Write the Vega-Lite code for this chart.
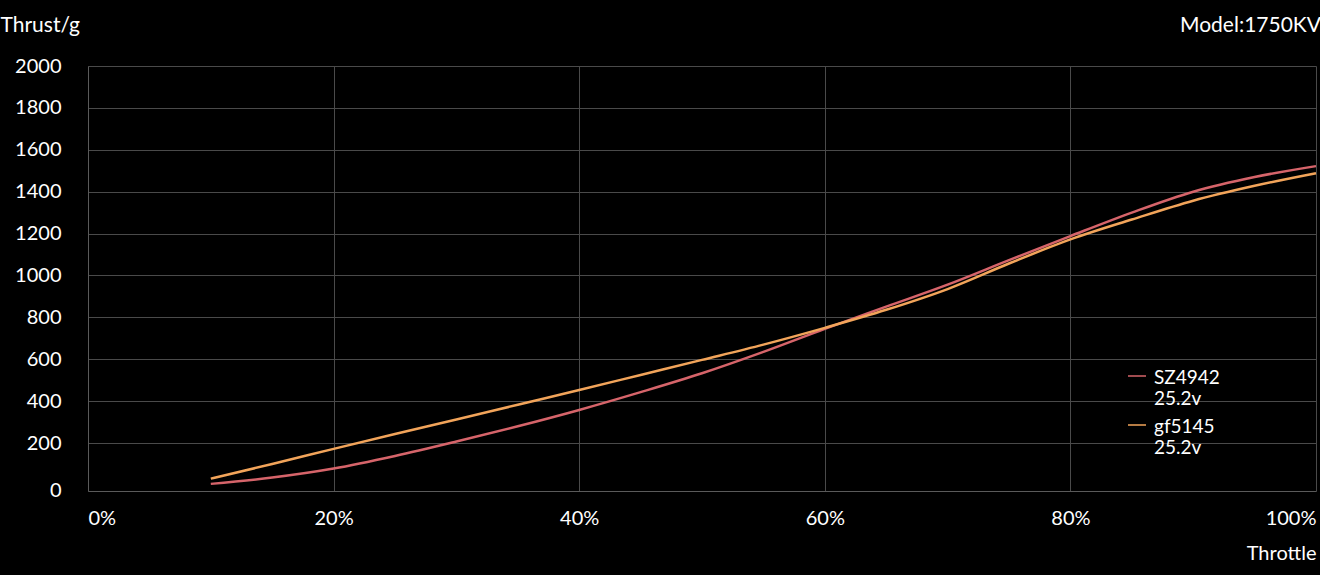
{
  "$schema": "https://vega.github.io/schema/vega-lite/v6.json",
  "width": 1228,
  "height": 425,
  "autosize": {"type": "none"},
  "padding": {"left": 88, "top": 66, "right": 4, "bottom": 84},
  "background": "#000000",
  "title": {"text": "Model:1750KV", "anchor": "end", "orient": "top", "offset": -22, "color": "#ffffff", "font": "Lato", "fontSize": 21, "fontWeight": "normal", "dx": 0},
  "config": {
    "view": {"stroke": null},
    "font": "Lato"
  },
  "data": {
    "values": [
      {"throttle": 0.10, "thrust": 5, "series": "SZ4942"},
      {"throttle": 0.15, "thrust": 35, "series": "SZ4942"},
      {"throttle": 0.20, "thrust": 78, "series": "SZ4942"},
      {"throttle": 0.25, "thrust": 138, "series": "SZ4942"},
      {"throttle": 0.30, "thrust": 207, "series": "SZ4942"},
      {"throttle": 0.35, "thrust": 280, "series": "SZ4942"},
      {"throttle": 0.40, "thrust": 358, "series": "SZ4942"},
      {"throttle": 0.45, "thrust": 443, "series": "SZ4942"},
      {"throttle": 0.50, "thrust": 533, "series": "SZ4942"},
      {"throttle": 0.55, "thrust": 635, "series": "SZ4942"},
      {"throttle": 0.60, "thrust": 745, "series": "SZ4942"},
      {"throttle": 0.65, "thrust": 851, "series": "SZ4942"},
      {"throttle": 0.70, "thrust": 956, "series": "SZ4942"},
      {"throttle": 0.75, "thrust": 1073, "series": "SZ4942"},
      {"throttle": 0.80, "thrust": 1188, "series": "SZ4942"},
      {"throttle": 0.85, "thrust": 1300, "series": "SZ4942"},
      {"throttle": 0.90, "thrust": 1400, "series": "SZ4942"},
      {"throttle": 0.95, "thrust": 1470, "series": "SZ4942"},
      {"throttle": 1.00, "thrust": 1522, "series": "SZ4942"},
      {"throttle": 0.10, "thrust": 30, "series": "gf5145"},
      {"throttle": 0.15, "thrust": 100, "series": "gf5145"},
      {"throttle": 0.20, "thrust": 172, "series": "gf5145"},
      {"throttle": 0.25, "thrust": 243, "series": "gf5145"},
      {"throttle": 0.30, "thrust": 312, "series": "gf5145"},
      {"throttle": 0.35, "thrust": 383, "series": "gf5145"},
      {"throttle": 0.40, "thrust": 453, "series": "gf5145"},
      {"throttle": 0.45, "thrust": 525, "series": "gf5145"},
      {"throttle": 0.50, "thrust": 597, "series": "gf5145"},
      {"throttle": 0.55, "thrust": 670, "series": "gf5145"},
      {"throttle": 0.60, "thrust": 750, "series": "gf5145"},
      {"throttle": 0.65, "thrust": 836, "series": "gf5145"},
      {"throttle": 0.70, "thrust": 935, "series": "gf5145"},
      {"throttle": 0.75, "thrust": 1057, "series": "gf5145"},
      {"throttle": 0.80, "thrust": 1172, "series": "gf5145"},
      {"throttle": 0.85, "thrust": 1267, "series": "gf5145"},
      {"throttle": 0.90, "thrust": 1357, "series": "gf5145"},
      {"throttle": 0.95, "thrust": 1428, "series": "gf5145"},
      {"throttle": 1.00, "thrust": 1488, "series": "gf5145"}
    ]
  },
  "mark": {"type": "line", "interpolate": "monotone", "strokeWidth": 2.5},
  "encoding": {
    "x": {
      "field": "throttle", "type": "quantitative",
      "scale": {"domain": [0, 1], "nice": false},
      "axis": {
        "title": "Throttle", "titleColor": "#ffffff", "titleFont": "Lato", "titleFontSize": 20, "titleFontWeight": "normal",
        "titleAnchor": "end", "titleAlign": "right", "titleX": 1228, "titleY": 62, "titleBaseline": "middle",
        "format": ".0%", "values": [0, 0.2, 0.4, 0.6, 0.8, 1.0],
        "labelFlush": true, "labelColor": "#ffffff", "labelFontSize": 20, "labelPadding": 17,
        "ticks": false, "domainColor": "#5a5a5a", "domainWidth": 1,
        "grid": true, "gridColor": "#4a4a4a", "gridWidth": 1
      }
    },
    "y": {
      "field": "thrust", "type": "quantitative",
      "scale": {"domain": [-29, 2000], "nice": false, "zero": false},
      "axis": {
        "title": "Thrust/g", "titleColor": "#ffffff", "titleFont": "Lato", "titleFontSize": 21, "titleFontWeight": "normal",
        "titleAngle": 0, "titleAlign": "left", "titleBaseline": "middle", "titleX": -88, "titleY": -41,
        "format": "d",
        "values": [0, 200, 400, 600, 800, 1000, 1200, 1400, 1600, 1800, 2000],
        "labelColor": "#ffffff", "labelFontSize": 20, "labelPadding": 27,
        "labelOffset": {"condition": {"test": "datum.value === 0", "value": 6}, "value": 0},
        "ticks": false, "domainColor": "#5a5a5a", "domainWidth": 1,
        "grid": true, "gridColor": {"condition": {"test": "datum.value === 0", "value": "transparent"}, "value": "#4a4a4a"}, "gridWidth": 1
      }
    },
    "color": {
      "field": "series", "type": "nominal",
      "scale": {"domain": ["SZ4942", "gf5145"], "range": ["#d6646a", "#f2a45a"]},
      "legend": {
        "title": null, "orient": "none", "legendX": 1039, "legendY": 300,
        "symbolType": "stroke", "symbolSize": 324, "symbolStrokeWidth": 2, "symbolOpacity": 0.75,
        "labelColor": "#ffffff", "labelFontSize": 19, "labelOffset": 7,
        "labelExpr": "[datum.label, '25.2v']", "labelBaseline": "top",
        "rowPadding": 6,
        "encode": {"labels": {"update": {"dy": {"value": -7}}}}
      }
    }
  }
}
